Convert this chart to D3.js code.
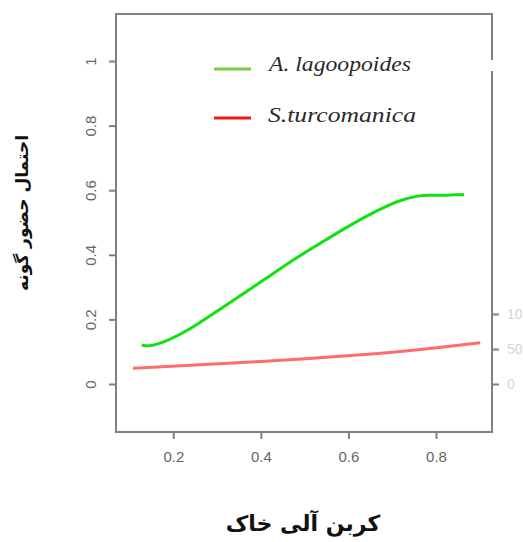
<!DOCTYPE html>
<html><head><meta charset="utf-8">
<script src="https://cdn.jsdelivr.net/npm/d3@7"></script>
<style>html,body{margin:0;padding:0;background:#fff;}svg{display:block;}</style>
</head><body>
<script>
// ---- data ----
const xTicks = [0.2, 0.4, 0.6, 0.8];
const yTicks = [0, 0.2, 0.4, 0.6, 0.8, 1];
const yTickLabels = ["0", "0.2", "0.4", "0.6", "0.8", "1"];
const rightTicks = [0, 50, 100];
const rightTickLabels = ["0", "50", "10"];
const seriesNames = ["A. lagoopoides", "S.turcomanica"];
const lagoX = [0.128, 0.142, 0.176, 0.231, 0.291, 0.352, 0.413, 0.473, 0.535, 0.588, 0.642, 0.688, 0.725, 0.757, 0.780, 0.825, 0.839, 0.864];
const lagoY = [0.121, 0.116, 0.127, 0.163, 0.218, 0.272, 0.328, 0.384, 0.435, 0.479, 0.521, 0.552, 0.572, 0.582, 0.585, 0.584, 0.586, 0.586];
const turcX = [0.108, 0.25, 0.398, 0.55, 0.7, 0.809, 0.901];
const turcY = [0.049, 0.058, 0.070, 0.082, 0.097, 0.113, 0.128];
const yTitle = "احتمال حضور گونه";
const xTitle = "کربن آلی خاک";

const W = 523, H = 542;
const L = 116, R = 492, T = 14, B = 432;
const svg = d3.select("body").append("svg").attr("width", W).attr("height", H);

const x = d3.scaleLinear().domain([0.2, 0.8]).range([173.3, 436]);
const y = d3.scaleLinear().domain([0, 1]).range([384, 61]);
const yR = d3.scaleLinear().domain([0, 100]).range([384, 314]);

const axisCol = "#808080";
const tickFont = "Liberation Sans Narrow, Liberation Sans, Arial";
// box
svg.append("rect").attr("x", L).attr("y", T).attr("width", R - L).attr("height", B - T)
  .attr("fill", "none").attr("stroke", axisCol).attr("stroke-width", 2);
// gap in right border
svg.append("rect").attr("x", R - 3).attr("y", 60).attr("width", 10).attr("height", 11).attr("fill", "#fff");

// x axis
const xa = svg.append("g").attr("transform", `translate(0,${B})`)
  .call(d3.axisBottom(x).tickValues(xTicks).tickSize(7).tickPadding(12).tickFormat(d3.format(".1f")));
xa.select(".domain").remove();
xa.selectAll("line").attr("stroke", axisCol).attr("stroke-width", 2);
xa.selectAll("text").attr("fill", "#666").attr("font-size", 15).attr("font-family", tickFont);

// y axis (rotated labels)
const ya = svg.append("g").attr("transform", `translate(${L},0)`)
  .call(d3.axisLeft(y).tickValues(yTicks).tickSize(7).tickFormat((d, i) => yTickLabels[i]));
ya.select(".domain").remove();
ya.selectAll("line").attr("stroke", axisCol).attr("stroke-width", 2);
ya.selectAll("text").attr("fill", "#666").attr("font-size", 15).attr("font-family", tickFont)
  .attr("transform", "rotate(-90)").attr("x", 0).attr("y", -25).attr("dy", "0.32em")
  .attr("text-anchor", "middle");

// right axis (faint)
const ra = svg.append("g").attr("transform", `translate(${R},0)`)
  .call(d3.axisRight(yR).tickValues(rightTicks).tickSize(7).tickPadding(8).tickFormat((d, i) => rightTickLabels[i]));
ra.select(".domain").remove();
ra.selectAll("line").attr("stroke", axisCol).attr("stroke-width", 2);
ra.selectAll("text").attr("fill", "#d4d4d4").attr("font-size", 14).attr("font-family", tickFont);

// curves
const line = d3.line().x(d => x(d[0])).y(d => y(d[1])).curve(d3.curveBasis);
svg.append("path").datum(turcX.map((v, i) => [v, turcY[i]]))
  .attr("d", line).attr("fill", "none").attr("stroke", "#ff6c6c").attr("stroke-width", 3);
svg.append("path").datum(lagoX.map((v, i) => [v, lagoY[i]]))
  .attr("d", line).attr("fill", "none").attr("stroke", "#11e011").attr("stroke-width", 3);

// legend
const legCols = ["#7ccc44", "#ee1818"];
const legY = [69, 118];
const legTextY = [71, 122];
const legTextW = [142, 148];
seriesNames.forEach((n, i) => {
  svg.append("line").attr("x1", 214).attr("x2", 251).attr("y1", legY[i]).attr("y2", legY[i])
    .attr("stroke", legCols[i]).attr("stroke-width", 3);
  svg.append("text").attr("x", i === 0 ? 269 : 268).attr("y", legTextY[i])
    .attr("font-family", "Liberation Serif, Times New Roman, serif").attr("font-style", "italic")
    .attr("font-size", 21).attr("fill", "#2a2a2a")
    .attr("textLength", legTextW[i]).attr("lengthAdjust", "spacingAndGlyphs").text(n);
});

// titles
svg.append("text").attr("transform", "translate(22,213) rotate(-90)")
  .attr("text-anchor", "middle").attr("dy", "0.35em").attr("font-weight", "bold")
  .attr("font-size", 17).attr("font-family", "DejaVu Sans, Noto Sans").attr("fill", "#111")
  .attr("direction", "rtl").text(yTitle);
svg.append("text").attr("x", 303).attr("y", 531).attr("text-anchor", "middle")
  .attr("font-weight", "bold").attr("font-size", 22).attr("font-family", "DejaVu Sans, Noto Sans")
  .attr("fill", "#111").attr("direction", "rtl").text(xTitle);
</script>
</body></html>
